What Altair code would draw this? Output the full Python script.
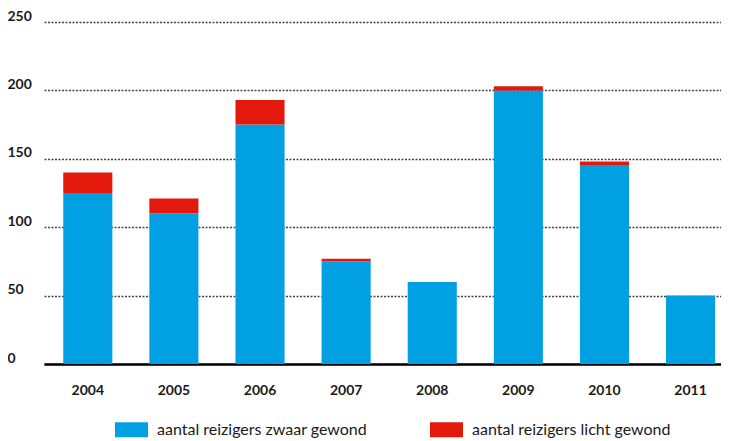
import pandas as pd
import altair as alt

# Data
years = ['2004', '2005', '2006', '2007', '2008', '2009', '2010', '2011']
zwaar = [125, 110, 175, 75, 60, 200, 145, 50]
licht = [15, 11, 18, 2, 0, 3, 3, 0]
series = ['aantal reizigers zwaar gewond', 'aantal reizigers licht gewond']
colors = ['#00a0e2', '#e3190c']
y_ticks = [0, 50, 100, 150, 200, 250]

rows = []
for i, yr in enumerate(years):
    rows.append({'jaar': yr, 'soort': series[0], 'aantal': zwaar[i], 'volgorde': 0})
    rows.append({'jaar': yr, 'soort': series[1], 'aantal': licht[i], 'volgorde': 1})
df = pd.DataFrame(rows)

font = 'Lato'

chart = alt.Chart(df).mark_bar().encode(
    x=alt.X('jaar:O', title=None,
            scale=alt.Scale(paddingInner=0.43, paddingOuter=0.146, align=0.766),
            axis=alt.Axis(labelAngle=0, ticks=False, tickSize=0, grid=False,
                          domainColor='#000000', domainWidth=2.5,
                          labelPadding=19, labelBaseline='top',
                          labelFont=font, labelFontSize=14, labelFontWeight='bold',
                          labelColor='#1a1a1a')),
    y=alt.Y('aantal:Q', title=None, stack='zero',
            scale=alt.Scale(domain=[0, 250], nice=False),
            axis=alt.Axis(values=y_ticks, domain=False, ticks=False, tickSize=0,
                          grid=True, gridColor='#444444', gridDash=[2, 1.5],
                          gridWidth=1.5,
                          labelAlign='left', labelPadding=37,
                          labelBaseline='alphabetic', labelOffset=-2,
                          labelFont=font, labelFontSize=14, labelFontWeight='bold',
                          labelColor='#1a1a1a')),
    color=alt.Color('soort:N', title=None,
                    scale=alt.Scale(domain=series, range=colors),
                    legend=alt.Legend(orient='none', legendX=71, legendY=391,
                                      direction='horizontal', columns=2,
                                      symbolType='M-1,-0.45L1,-0.45L1,0.45L-1,0.45Z',
                                      symbolSize=1089, symbolStrokeWidth=0,
                                      symbolOpacity=1,
                                      labelOffset=9, columnPadding=62,
                                      labelFont=font, labelFontSize=16,
                                      labelColor='#1a1a1a', labelLimit=400,
                                      padding=0)),
    order=alt.Order('volgorde:Q')
).properties(
    width=677,
    height=342,
    autosize=alt.AutoSizeParams(type='none'),
    padding={'left': 36, 'top': 14, 'right': 0, 'bottom': 77}
).configure_view(
    stroke=None
)

chart.save("out.html", embed_options={"renderer": "svg", "actions": False})
